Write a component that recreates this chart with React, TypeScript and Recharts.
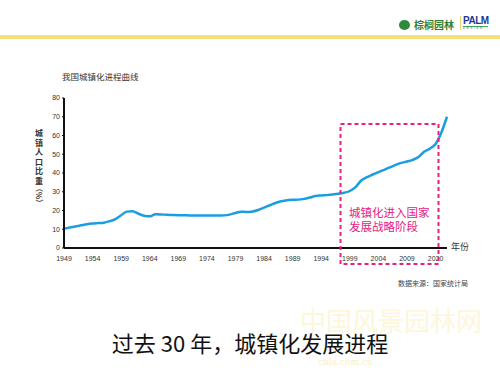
import { LineChart, Line, XAxis, YAxis } from "recharts";

// ─── Data ─────────────────────────────────────────────────────────────────────
const YEARS = [
  "1949", "1950", "1951", "1952", "1953", "1954", "1955", "1956", "1957", "1958",
  "1959", "1960", "1961", "1962", "1963", "1964", "1965", "1966", "1967", "1968",
  "1969", "1970", "1971", "1972", "1973", "1974", "1975", "1976", "1977", "1978",
  "1979", "1980", "1981", "1982", "1983", "1984", "1985", "1986", "1987", "1988",
  "1989", "1990", "1991", "1992", "1993", "1994", "1995", "1996", "1997", "1998",
  "1999", "2000", "2001", "2002", "2003", "2004", "2005", "2006", "2007", "2008",
  "2009", "2010", "2011", "2012", "2013", "2014", "2015", "2016",
];

// 城镇人口比重 (%)
const URBAN_RATE = [
  10.3, 10.9, 11.5, 12.1, 12.7, 13.1, 13.3, 13.5, 14.3, 15.4,
  17.5, 19.4, 19.6, 18.3, 17.2, 16.9, 18.0, 17.9, 17.7, 17.6,
  17.5, 17.5, 17.4, 17.4, 17.3, 17.3, 17.3, 17.3, 17.4, 17.8,
  18.7, 19.4, 19.2, 19.5, 20.3, 21.5, 22.8, 24.0, 24.9, 25.5,
  25.7, 25.8, 26.2, 26.9, 27.7, 28.0, 28.2, 28.5, 28.9, 29.5,
  30.4, 32.5, 36.0, 37.8, 39.2, 40.5, 41.7, 43.0, 44.3, 45.4,
  46.1, 47.0, 48.5, 51.3, 53.0, 55.5, 61.5, 70.0,
];

const Y_TICKS = [0, 10, 20, 30, 40, 50, 60, 70, 80];

// the source slide labels its last tick "2020"
const TICK_LABELS: Record<string, string> = { "2014": "2020" };

const Y_LABEL_CHARS = ["城", "镇", "人", "口", "比", "重"];
const Y_LABEL_UNIT = "（%）";

const chartData = YEARS.map((year, i) => ({ year, rate: URBAN_RATE[i] }));

const CJK = '"Noto Sans CJK SC", "Noto Sans", sans-serif';
const PINK = "#e5227f";

export default function App() {
  return (
    <div
      style={{
        position: "absolute",
        left: 0,
        top: 0,
        width: 500,
        height: 372,
        overflow: "hidden",
        background: "#fff",
        fontFamily: CJK,
      }}
    >
      {/* header logo */}
      <div
        style={{
          position: "absolute",
          left: 399,
          top: 20,
          width: 11,
          height: 10,
          borderRadius: "50%",
          background: "#2f8a3c",
        }}
      />
      <div
        style={{
          position: "absolute",
          left: 414,
          top: 19,
          fontSize: 10,
          lineHeight: "12px",
          fontWeight: 700,
          color: "#2f7f36",
          whiteSpace: "nowrap",
        }}
      >
        棕榈园林
      </div>
      <div
        style={{
          position: "absolute",
          left: 460,
          top: 16,
          width: 1,
          height: 14,
          background: "#f2d66a",
        }}
      />
      <div
        style={{
          position: "absolute",
          left: 463,
          top: 15,
          fontFamily: '"Liberation Sans", sans-serif',
          fontSize: 10,
          lineHeight: "11px",
          fontWeight: 700,
          color: "#22398f",
          letterSpacing: -0.5,
        }}
      >
        PALM
      </div>
      <div
        style={{
          position: "absolute",
          left: 463,
          top: 26,
          width: 25,
          height: 1,
          background: "#3cae5a",
        }}
      />
      <div
        style={{
          position: "absolute",
          left: 463,
          top: 27,
          fontFamily: '"Liberation Sans", sans-serif',
          fontSize: 3,
          lineHeight: "3px",
          letterSpacing: 1.5,
          color: "#555",
        }}
      >
        DESIGN
      </div>
      <div
        style={{
          position: "absolute",
          left: 0,
          top: 35,
          width: 500,
          height: 4,
          background: "#f6e07c",
        }}
      />

      {/* chart title */}
      <div
        style={{
          position: "absolute",
          left: 62,
          top: 72,
          fontSize: 8.5,
          lineHeight: "9px",
          color: "#333",
          whiteSpace: "nowrap",
        }}
      >
        我国城镇化进程曲线
      </div>

      {/* y axis label, stacked upright */}
      <div
        style={{
          position: "absolute",
          left: 34,
          top: 128,
          width: 10,
          fontSize: 8,
          lineHeight: "9.5px",
          fontWeight: 700,
          color: "#333",
          textAlign: "center",
        }}
      >
        {Y_LABEL_CHARS.map((c) => (
          <div key={c} style={{ height: 9.5 }}>
            {c}
          </div>
        ))}
        <div
          style={{
            position: "absolute",
            left: -5,
            top: 62,
            width: 20,
            height: 9,
            lineHeight: "9px",
            transform: "rotate(90deg)",
            whiteSpace: "nowrap",
            fontSize: 7.5,
          }}
        >
          {Y_LABEL_UNIT}
        </div>
      </div>

      <div style={{ position: "absolute", left: 0, top: 0 }}>
        <LineChart
          width={500}
          height={372}
          data={chartData}
          margin={{ top: 98, right: 53, left: 24, bottom: 104 }}
        >
          <XAxis
            dataKey="year"
            interval={4}
            height={20}
            tickFormatter={(v) => TICK_LABELS[v] ?? v}
            tick={{ fontSize: 7, fill: "#333", fontFamily: '"Liberation Sans", sans-serif' }}
            axisLine={{ stroke: "#111", strokeWidth: 2 }}
            tickLine={false}
            tickMargin={2}
          />
          <YAxis
            width={40}
            domain={[0, 80]}
            ticks={Y_TICKS}
            tick={{ fontSize: 7, fill: "#333", fontFamily: '"Liberation Sans", sans-serif' }}
            axisLine={{ stroke: "#111", strokeWidth: 2 }}
            tickLine={{ stroke: "#111" }}
            tickSize={2}
            tickMargin={2}
          />
          <Line
            type="monotone"
            dataKey="rate"
            stroke="#1b9de2"
            strokeWidth={2.5}
            dot={false}
            isAnimationActive={false}
          />
        </LineChart>
      </div>

      {/* 年份 axis name */}
      <div
        style={{
          position: "absolute",
          left: 451,
          top: 242,
          fontSize: 9,
          lineHeight: "9px",
          color: "#333",
          whiteSpace: "nowrap",
        }}
      >
        年份
      </div>

      {/* highlighted period */}
      <svg
        width={500}
        height={372}
        style={{ position: "absolute", left: 0, top: 0, pointerEvents: "none" }}
      >
        <rect
          x={340.5}
          y={124}
          width={98}
          height={140}
          fill="none"
          stroke={PINK}
          strokeWidth={2}
          strokeDasharray="4 3"
        />
      </svg>
      <div
        style={{
          position: "absolute",
          left: 349,
          top: 206,
          fontSize: 11.5,
          lineHeight: "13.5px",
          color: PINK,
          whiteSpace: "nowrap",
        }}
      >
        城镇化进入国家
        <br />
        发展战略阶段
      </div>

      {/* source */}
      <div
        style={{
          position: "absolute",
          left: 398,
          top: 279,
          fontSize: 7,
          lineHeight: "8px",
          color: "#444",
          whiteSpace: "nowrap",
        }}
      >
        数据来源：国家统计局
      </div>

      {/* faint watermark */}
      <div
        style={{
          position: "absolute",
          left: 300,
          top: 306,
          fontSize: 26,
          lineHeight: "28px",
          color: "#fdf6da",
          whiteSpace: "nowrap",
        }}
      >
        中国风景园林网
      </div>
      <div
        style={{
          position: "absolute",
          left: 318,
          top: 357,
          fontSize: 9,
          lineHeight: "10px",
          color: "#f9f0c6",
          fontFamily: '"DejaVu Serif", serif',
          whiteSpace: "nowrap",
        }}
      >
        chla.com.cn
      </div>

      {/* slide caption */}
      <div
        style={{
          position: "absolute",
          left: 0,
          width: 500,
          top: 330,
          textAlign: "center",
          fontSize: 22,
          lineHeight: "24px",
          color: "#111",
          whiteSpace: "nowrap",
        }}
      >
        过去 30 年，城镇化发展进程
      </div>
    </div>
  );
}
